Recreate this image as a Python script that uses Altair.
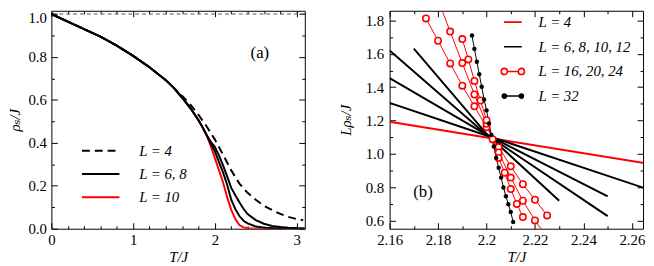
import altair as alt
import pandas as pd

# ---------------- panel (a): rho_s/J versus T/J ----------------
T_LOW = [0.0, 0.2, 0.4, 0.6, 0.8, 1.0, 1.2, 1.4, 1.5]
RHO_LOW = [1.0, 0.965, 0.93, 0.895, 0.853, 0.805, 0.752, 0.692, 0.655]
T_MID = [1.6, 1.7, 1.8, 1.85, 1.9]
RHO_MID = [0.61, 0.562, 0.505, 0.472, 0.435]
T_L4 = [1.6, 1.7, 1.8, 1.9, 2.0, 2.1, 2.2, 2.3, 2.4, 2.5, 2.6, 2.7, 2.8, 2.9, 3.0, 3.08]
RHO_L4 = [0.618, 0.578, 0.53, 0.476, 0.415, 0.345, 0.272, 0.21, 0.167, 0.135, 0.107, 0.087, 0.069, 0.055, 0.045, 0.04]
T_L6 = [1.95, 2.0, 2.05, 2.1, 2.15, 2.2, 2.25, 2.3, 2.35, 2.4, 2.5, 2.6, 2.7, 2.8, 2.9, 3.0, 3.1]
RHO_L6 = [0.405, 0.38, 0.342, 0.295, 0.244, 0.19, 0.156, 0.123, 0.093, 0.068, 0.04, 0.023, 0.013, 0.008, 0.005, 0.003, 0.002]
T_L8 = [1.95, 2.0, 2.05, 2.1, 2.15, 2.2, 2.25, 2.3, 2.35, 2.4, 2.5, 2.6, 2.8, 3.0]
RHO_L8 = [0.397, 0.36, 0.31, 0.262, 0.205, 0.135, 0.092, 0.059, 0.037, 0.025, 0.01, 0.005, 0.001, 0.0]
T_L10 = [1.95, 2.0, 2.05, 2.1, 2.15, 2.2, 2.25, 2.3, 2.35, 2.4, 2.5, 3.0]
RHO_L10 = [0.385, 0.328, 0.273, 0.215, 0.147, 0.088, 0.045, 0.017, 0.006, 0.002, 0.0, 0.0]
RHO_REF = [1.0]
LEG_A = ["L = 4", "L = 6, 8", "L = 10"]

# ---------------- panel (b): L rho_s/J versus T/J ----------------
T_B4 = [2.16, 2.2, 2.265]
V_B4 = [1.192, 1.098, 0.944]
T_B6 = [2.16, 2.2, 2.265]
V_B6 = [1.306, 1.11, 0.795]
T_B8 = [2.16, 2.2, 2.25]
V_B8 = [1.454, 1.115, 0.744]
T_B10 = [2.16, 2.2, 2.25]
V_B10 = [1.62, 1.115, 0.626]
T_B12 = [2.17, 2.2, 2.23]
V_B12 = [1.632, 1.12, 0.718]
T_B16 = [2.175, 2.18, 2.185, 2.19, 2.195, 2.2, 2.205, 2.21, 2.215, 2.22, 2.225]
V_B16 = [1.813, 1.679, 1.543, 1.409, 1.285, 1.16, 1.04, 0.925, 0.817, 0.724, 0.63]
T_B20 = [2.18, 2.185, 2.19, 2.195, 2.2, 2.205, 2.21, 2.215, 2.22, 2.225]
V_B20 = [1.925, 1.734, 1.545, 1.356, 1.18, 1.008, 0.857, 0.718, 0.60, 0.50]
T_B24 = [2.19, 2.1925, 2.195, 2.1975, 2.2, 2.2025, 2.205, 2.2075, 2.21, 2.2125, 2.215]
V_B24 = [1.689, 1.567, 1.438, 1.32, 1.202, 1.088, 0.975, 0.886, 0.788, 0.699, 0.62]
T_B32 = [2.194, 2.195, 2.196, 2.197, 2.198, 2.199, 2.2, 2.201, 2.202, 2.203,
         2.204, 2.205, 2.206, 2.207, 2.208, 2.209, 2.21, 2.211]
V_B32 = [1.711, 1.630, 1.553, 1.478, 1.403, 1.326, 1.261, 1.182, 1.113, 1.044,
         0.975, 0.916, 0.857, 0.798, 0.745, 0.697, 0.650, 0.59]
LEG_B = ["L = 4", "L = 6, 8, 10, 12", "L = 16, 20, 24", "L = 32"]

# tick positions
XA_MAJ = [0, 1, 2, 3]
XA_MIN = [0.2, 0.4, 0.6, 0.8, 1.2, 1.4, 1.6, 1.8, 2.2, 2.4, 2.6, 2.8, 3.0]
YA_MAJ = [0.0, 0.2, 0.4, 0.6, 0.8, 1.0]
YA_MIN = [0.1, 0.3, 0.5, 0.7, 0.9]
XB_MAJ = [2.16, 2.18, 2.2, 2.22, 2.24, 2.26]
XB_MIN = [2.17, 2.19, 2.21, 2.23, 2.25]
YB_MAJ = [0.6, 0.8, 1.0, 1.2, 1.4, 1.6, 1.8]
YB_MIN = [0.7, 0.9, 1.1, 1.3, 1.5, 1.7]

RED = "#ff0000"
FONT = "'Liberation Serif', 'Times New Roman', Times, 'DejaVu Serif', serif"


def rows(L, grp, col, ts, vs):
    return [{"L": L, "grp": grp, "col": col, "T": t, "v": v} for t, v in zip(ts, vs)]


recs = []
recs += rows(4, LEG_A[0], "black", T_LOW + T_L4, RHO_LOW + RHO_L4)
recs += rows(6, LEG_A[1], "black", T_LOW + T_MID + T_L6, RHO_LOW + RHO_MID + RHO_L6)
recs += rows(8, LEG_A[1], "black", T_LOW + T_MID + T_L8, RHO_LOW + RHO_MID + RHO_L8)
recs += rows(10, LEG_A[2], RED, T_LOW + T_MID + T_L10, RHO_LOW + RHO_MID + RHO_L10)
dfA = pd.DataFrame(recs)

recs = []
recs += rows(4, LEG_B[0], RED, T_B4, V_B4)
recs += rows(6, LEG_B[1], "black", T_B6, V_B6)
recs += rows(8, LEG_B[1], "black", T_B8, V_B8)
recs += rows(10, LEG_B[1], "black", T_B10, V_B10)
recs += rows(12, LEG_B[1], "black", T_B12, V_B12)
recs += rows(16, LEG_B[2], RED, T_B16, V_B16)
recs += rows(20, LEG_B[2], RED, T_B20, V_B20)
recs += rows(24, LEG_B[2], RED, T_B24, V_B24)
recs += rows(32, LEG_B[3], "black", T_B32, V_B32)
dfB = pd.DataFrame(recs)

xA = alt.Scale(domain=[0, 3.1], nice=False, zero=False)
yA = alt.Scale(domain=[0, 1.015], nice=False, zero=False)
xB = alt.Scale(domain=[2.16, 2.2646], nice=False, zero=False)
yB = alt.Scale(domain=[0.55, 1.859], nice=False, zero=False)


def enc(xs, ys):
    return dict(x=alt.X("T:Q", scale=xs, axis=None), y=alt.Y("v:Q", scale=ys, axis=None))


def frame(df, xs, ys, xmaj, xmin, ymaj, ymin, xfmt, yfmt, ytitle, ylp, ytp, ylo):
    out = [alt.Chart(df).mark_point(opacity=0, clip=True).encode(
        x=alt.X("T:Q", scale=xs, axis=alt.Axis(
            orient="bottom", values=xmaj, format=xfmt, ticks=False, tickSize=0,
            domain=False, grid=False, labelPadding=4, labelFlush=False,
            labelOverlap=False, title="T/J", titlePadding=2, minExtent=0)),
        y=alt.Y("v:Q", scale=ys, axis=alt.Axis(
            orient="left", values=ymaj, format=yfmt, ticks=False, tickSize=0,
            domain=False, grid=False, labelPadding=ylp, labelFlush=False,
            labelOverlap=False, title=ytitle, titlePadding=ytp, minExtent=0,
            labelOffset=ylo)))]
    for size, xv, yv in ((6, xmaj, ymaj), (3, xmin, ymin)):
        for xo, yo in (("bottom", "left"), ("top", "right")):
            out.append(alt.Chart(df).mark_point(opacity=0, clip=True).encode(
                x=alt.X("T:Q", scale=xs, axis=alt.Axis(
                    orient=xo, values=xv, labels=False, domain=False, grid=False,
                    title=None, tickSize=size, offset=-size, tickColor="black",
                    tickWidth=1, minExtent=0)),
                y=alt.Y("v:Q", scale=ys, axis=alt.Axis(
                    orient=yo, values=yv, labels=False, domain=False, grid=False,
                    title=None, tickSize=size, offset=-size, tickColor="black",
                    tickWidth=1, minExtent=0))))
    return out


# ---------- panel (a) layers ----------
legA = alt.Legend(orient="none", legendX=30, legendY=134.5, title=None, padding=0,
                  symbolType="stroke", symbolSize=1444, symbolStrokeWidth=2,
                  symbolOpacity=1, labelFont=FONT, labelFontStyle="italic",
                  labelFontSize=15, labelColor="black", labelOffset=19,
                  rowPadding=7.5, clipHeight=15)

a_red = alt.Chart(dfA[dfA.L == 10]).mark_line(color=RED, strokeWidth=2, clip=True).encode(**enc(xA, yA))
a_black = alt.Chart(dfA[dfA.L.isin([6, 8])]).mark_line(color="black", strokeWidth=2, clip=True).encode(
    detail="L:N", **enc(xA, yA))
a_dash = alt.Chart(dfA[dfA.L == 4]).mark_line(color="black", strokeWidth=2, strokeDash=[8, 5], clip=True).encode(
    **enc(xA, yA))
a_ref = alt.Chart(pd.DataFrame({"v": RHO_REF})).mark_rule(color="#555555", strokeWidth=1, strokeDash=[4, 3]).encode(
    y=alt.Y("v:Q", scale=yA, axis=None))
a_txt = alt.Chart(pd.DataFrame({"T": [2.55], "v": [0.818], "t": ["(a)"]})).mark_text(
    font=FONT, fontSize=17, color="black").encode(text="t:N", **enc(xA, yA))
a_leg = alt.Chart(dfA).mark_line(opacity=0, clip=True).encode(
    detail="L:N",
    color=alt.Color("grp:N", scale=alt.Scale(domain=LEG_A, range=["black", "black", RED]), legend=legA),
    strokeDash=alt.StrokeDash("grp:N", scale=alt.Scale(domain=LEG_A, range=[[8, 5], [1, 0], [1, 0]]), legend=legA),
    **enc(xA, yA))

top_label_shift = {"condition": {"test": "datum.value >= 1", "value": 4}, "value": 0}

panelA = alt.layer(
    *frame(dfA, xA, yA, XA_MAJ, XA_MIN, YA_MAJ, YA_MIN, "d", ".1f", "ρₛ/J", 5, 6, top_label_shift),
    a_ref, a_red, a_black, a_dash, a_txt, a_leg
).resolve_axis(x="independent", y="independent").properties(width=257, height=221)

# ---------- panel (b) layers ----------
PATH_LINE = "M-0.75,0L0.75,0"
PATH_OPEN = ("M-0.46,0L0.46,0"
             "M-0.98,0A0.26,0.26 0 1,0 -0.46,0A0.26,0.26 0 1,0 -0.98,0Z"
             "M0.46,0A0.26,0.26 0 1,0 0.98,0A0.26,0.26 0 1,0 0.46,0Z")
PATH_DOT = ("M-0.72,0L0.72,0"
            "M-0.89,0A0.17,0.17 0 1,0 -0.55,0A0.17,0.17 0 1,0 -0.89,0Z"
            "M0.55,0A0.17,0.17 0 1,0 0.89,0A0.17,0.17 0 1,0 0.55,0Z")

legB = alt.Legend(orient="none", legendX=112, legendY=4, title=None, padding=0,
                  symbolSize=576, symbolStrokeWidth=1.6, symbolOpacity=1,
                  labelFont=FONT, labelFontStyle="italic", labelFontSize=15,
                  labelColor="black", labelOffset=13, rowPadding=9, clipHeight=15)

b_thick = alt.Chart(dfB[dfB.L <= 12]).mark_line(strokeWidth=2, clip=True).encode(
    detail="L:N", color=alt.Color("col:N", scale=None), **enc(xB, yB))
b_thin = alt.Chart(dfB[dfB.L >= 16]).mark_line(strokeWidth=1, clip=True).encode(
    detail="L:N", color=alt.Color("col:N", scale=None), **enc(xB, yB))
b_open = alt.Chart(dfB[dfB.L.isin([16, 20, 24])]).mark_point(
    shape="circle", size=42, filled=True, fill="white", stroke=RED, strokeWidth=1.6,
    opacity=1, clip=True).encode(**enc(xB, yB))
b_dot = alt.Chart(dfB[dfB.L == 32]).mark_circle(size=20, color="black", opacity=1, clip=True).encode(
    **enc(xB, yB))
b_txt = alt.Chart(pd.DataFrame({"T": [2.1738], "v": [0.77], "t": ["(b)"]})).mark_text(
    font=FONT, fontSize=17, color="black").encode(text="t:N", **enc(xB, yB))
b_leg = alt.Chart(dfB).mark_point(opacity=0, clip=True).encode(
    color=alt.Color("grp:N", scale=alt.Scale(domain=LEG_B, range=[RED, "black", RED, "black"]), legend=legB),
    shape=alt.Shape("grp:N", scale=alt.Scale(domain=LEG_B, range=[PATH_LINE, PATH_LINE, PATH_OPEN, PATH_DOT]),
                    legend=legB),
    fill=alt.Fill("grp:N", scale=alt.Scale(domain=LEG_B, range=["transparent", "transparent", "white", "black"]),
                  legend=legB),
    **enc(xB, yB))

panelB = alt.layer(
    *frame(dfB, xB, yB, XB_MAJ, XB_MIN, YB_MAJ, YB_MIN, "~g", ".1f", "Lρₛ/J", 6, 12, 0),
    b_thick, b_thin, b_open, b_dot, b_txt, b_leg
).resolve_axis(x="independent", y="independent").properties(width=257, height=221)

chart = alt.hconcat(panelA, panelB, spacing=86, bounds="flush").resolve_scale(
    color="independent", strokeDash="independent", shape="independent", fill="independent"
).properties(
    padding={"left": -2, "top": 0, "right": 0, "bottom": 0}
).configure_view(
    stroke="black", strokeWidth=1
).configure_axis(
    labelFont=FONT, labelFontSize=15, labelColor="black",
    titleFont=FONT, titleFontSize=15, titleFontWeight="normal",
    titleColor="black", titleFontStyle="italic", minExtent=0
)

chart.save("out.html", embed_options={"renderer": "svg", "actions": False})
